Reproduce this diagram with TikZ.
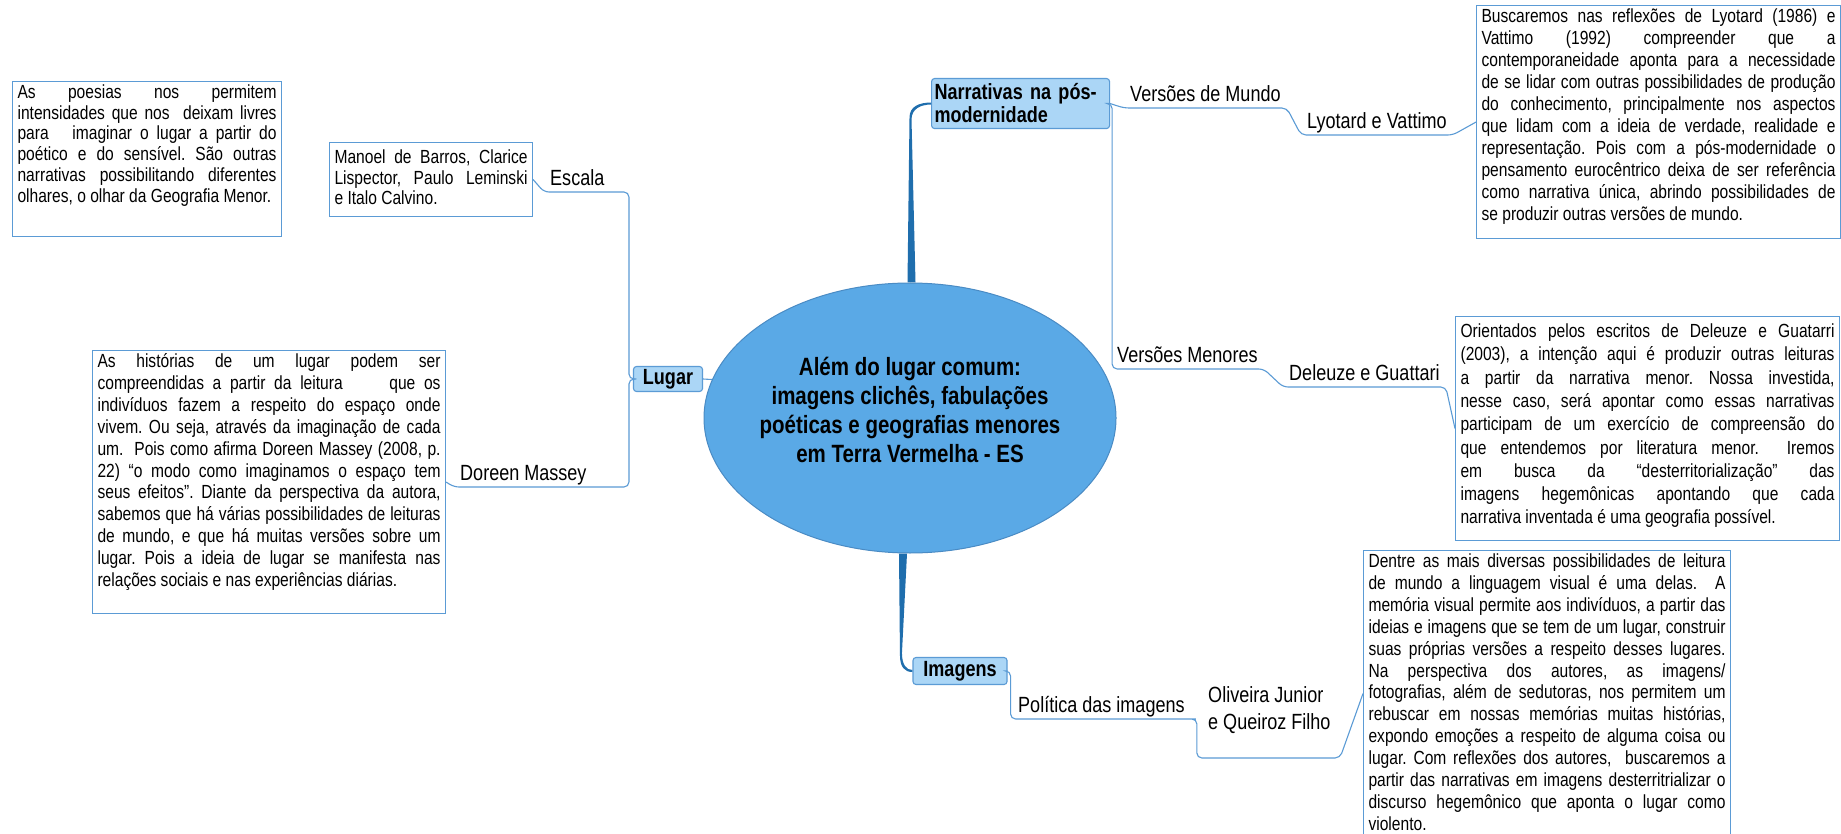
\documentclass[tikz,border=0pt]{standalone}
\usepackage{fontspec}
\setmainfont{Liberation Sans}[FakeStretch=0.82]
\usepackage{xcolor}
\usepackage{tikz}
\usetikzlibrary{shapes.geometric, calc}
\definecolor{topicfill}{HTML}{5AA9E6}
\definecolor{topicline}{HTML}{4A8BC4}
\definecolor{trunkblue}{HTML}{1F6EAD}
\definecolor{twigblue}{HTML}{5B9BD5}
\definecolor{boxline}{HTML}{5B9BD5}
\definecolor{branchfill}{HTML}{ABD6F6}
\hyphenpenalty=10000
\exhyphenpenalty=10000
\tolerance=10000
\frenchspacing
\newcommand{\boxfont}[1]{\fontsize{19}{#1}\selectfont}
\tikzstyle{centre} = [
    ellipse,
    draw=topicline,
    line width=1pt,
    fill=topicfill,
    minimum width=412pt,
    minimum height=270pt,
    inner sep=0pt
]
\tikzstyle{mainbranch} = [
    draw=boxline,
    line width=1.1pt,
    fill=branchfill,
    rounded corners=3pt,
    inner sep=0pt,
    font=\fontsize{22}{23}\selectfont\bfseries
]
\tikzstyle{notebox} = [
    draw=boxline,
    line width=1.1pt,
    fill=white,
    anchor=north west,
    align=justify,
    inner xsep=5pt,
    inner ysep=3pt,
    text height=14pt
]
\tikzstyle{leaf} = [
    anchor=south west,
    inner xsep=6pt,
    inner ysep=1pt,
    text height=16pt,
    text depth=5pt,
    font=\fontsize{22}{26}\selectfont
]
\tikzstyle{twig} = [
    draw=twigblue,
    line width=1.1pt,
    rounded corners=5pt
]
\tikzstyle{trunk} = [
    fill=trunkblue
]
\begin{document}
\frenchspacing
\begin{tikzpicture}[x=1pt,y=-1pt]

\useasboundingbox (0,0) rectangle (1841,834);

\clip (0,0) rectangle (1841,834);

\fill[white] (0,0) rectangle (1841,834);

\node[centre] (topic) at (910,418) {};

\node[align=center, font=\fontsize{25}{29}\selectfont\bfseries] (topictext) at (910,410)
{Além do lugar comum:\\imagens clichês, fabulações\\poéticas e geografias menores\\em Terra Vermelha - ES};

\node[mainbranch, minimum width=69pt, minimum height=25pt] (lugar) at (668,379) {Lugar};

\node[mainbranch, anchor=north west, align=left, text width=172pt, inner xsep=3pt, inner ysep=3pt,
text height=18pt, text depth=26pt] (narr) at (931,78) {Narrativas na pós-\\modernidade};

\node[mainbranch, minimum width=94pt, minimum height=27pt] (imag) at (960,671) {Imagens};

\node[notebox, text width=259pt, text depth=135pt, font=\boxfont{20.7}] (poem) at (12,81)
{As poesias nos permitem\linebreak
intensidades que nos\ \ deixam livres\linebreak
para\ \ \ imaginar o lugar a partir do\linebreak
poético e do sensível. São outras\linebreak
narrativas possibilitando diferentes\linebreak
olhares, o olhar da Geografia Menor.};

\node[notebox, text width=193pt, text height=18pt, text depth=50pt, font=\boxfont{20.5}] (manoel) at (329,142)
{Manoel de Barros, Clarice\linebreak
Lispector, Paulo Leminski\linebreak
e Italo Calvino.};

\node[notebox, text width=343pt, text depth=243pt, font=\boxfont{21.9}] (doreen) at (92,350)
{As histórias de um lugar podem ser\linebreak
compreendidas a partir da leitura\hspace{2em} que os\linebreak
indivíduos fazem a respeito do espaço onde\linebreak
vivem. Ou seja, através da imaginação de cada\linebreak
um.\ \ Pois como afirma Doreen Massey (2008, p.\linebreak
22) “o modo como imaginamos o espaço tem\linebreak
seus efeitos”. Diante da perspectiva da autora,\linebreak
sabemos que há várias possibilidades de leituras\linebreak
de mundo, e que há muitas versões sobre um\linebreak
lugar. Pois a ideia de lugar se manifesta nas\linebreak
relações sociais e nas experiências diárias.};

\node[notebox, text width=354pt, text depth=213pt, font=\boxfont{22}] (busc) at (1476,5)
{Buscaremos nas reflexões de Lyotard (1986) e\linebreak
Vattimo (1992) compreender que a\linebreak
contemporaneidade aponta para a necessidade\linebreak
de se lidar com outras possibilidades de produção\linebreak
do conhecimento, principalmente nos aspectos\linebreak
que lidam com a ideia de verdade, realidade e\linebreak
representação. Pois com a pós-modernidade o\linebreak
pensamento eurocêntrico deixa de ser referência\linebreak
como narrativa única, abrindo possibilidades de\linebreak
se produzir outras versões de mundo.};

\node[notebox, text width=374pt, text height=18pt, text depth=200pt, font=\boxfont{23.3}] (orient) at (1455,316)
{Orientados pelos escritos de Deleuze e Guatarri\linebreak
(2003), a intenção aqui é produzir outras leituras\linebreak
a partir da narrativa menor. Nossa investida,\linebreak
nesse caso, será apontar como essas narrativas\linebreak
participam de um exercício de compreensão do\linebreak
que entendemos por literatura menor.\ \ Iremos\linebreak
em busca da “desterritorialização” das\linebreak
imagens hegemônicas apontando que cada\linebreak
narrativa inventada é uma geografia possível.};

\node[notebox, text width=357pt, text depth=266pt, font=\boxfont{21.9}] (dentre) at (1363,550)
{Dentre as mais diversas possibilidades de leitura\linebreak
de mundo a linguagem visual é uma delas.\ \ A\linebreak
memória visual permite aos indivíduos, a partir das\linebreak
ideias e imagens que se tem de um lugar, construir\linebreak
suas próprias versões a respeito desses lugares.\linebreak
Na perspectiva dos autores, as imagens/\linebreak
fotografias, além de sedutoras, nos permitem um\linebreak
rebuscar em nossas memórias muitas histórias,\linebreak
expondo emoções a respeito de alguma coisa ou\linebreak
lugar. Com reflexões dos autores,\ \ buscaremos a\linebreak
partir das narrativas em imagens desterritrializar o\linebreak
discurso hegemônico que aponta o lugar como\linebreak
violento.};

\node[leaf] (escala) at (544,192) {Escala};

\node[leaf] (dmlbl) at (454,487) {Doreen Massey};

\node[leaf] (vdm) at (1124,108) {Versões de Mundo};

\node[leaf] (lyo) at (1301,135) {Lyotard e Vattimo};

\node[leaf] (vmen) at (1111,369) {Versões Menores};

\node[leaf] (del) at (1283,387) {Deleuze e Guattari};

\node[leaf] (pol) at (1012,719) {Política das imagens};

\node[leaf, text depth=54pt, font=\fontsize{22}{27}\selectfont] (oliv) at (1202,758)
{\begin{tabular}[t]{@{}l@{}}Oliveira Junior\\e Queiroz Filho\end{tabular}};

\fill[trunk] ($(topic.north)+(-2.5,0)$) -- ($(topic.north |- narr.west)+(-0.5,14)$)
.. controls ($(topic.north |- narr.west)+(-0.5,3)$) and ($(narr.west)+(-12,-1)$) .. ($(narr.west)+(0,-1)$)
-- ($(narr.west)+(0,1)$)
.. controls ($(narr.west)+(-10,1)$) and ($(topic.north |- narr.west)+(1.5,5)$) .. ($(topic.north |- narr.west)+(1.5,16)$)
-- ($(topic.north)+(5.5,0)$) -- cycle;

\fill[trunk] ($(topic.south)+(-11,0)$) -- ($(imag.west)+(-12.5,-16)$)
.. controls ($(imag.west)+(-12.5,-4)$) and ($(imag.west)+(-8,1)$) .. ($(imag.west)+(0,1)$)
-- ($(imag.west)+(0,-1)$)
.. controls ($(imag.west)+(-6,-1)$) and ($(imag.west)+(-10.5,-6)$) .. ($(imag.west)+(-10.5,-18)$)
-- ($(topic.south)+(-3,0)$) -- cycle;

\draw[twig] (lugar.east) -- (topic.169);

\draw[twig] (lugar.west) -- ++(-4,0) |- (escala.south east) -- (escala.south west) -- (manoel.east);

\draw[twig] (lugar.west) -- ++(-4,0) |- (dmlbl.south east) -- (dmlbl.south west) -- (doreen.east);

\draw[twig] (narr.east) -- (vdm.south west) -- (vdm.south east) -- (lyo.south west) -- (lyo.south east) -- (busc.west);

\draw[twig] (narr.east) -- ++(2,0) |- (vmen.south east) -- (del.south west) -- (del.south east) -- (orient.west);

\draw[twig] (imag.east) -- ++(3,0) |- (pol.south east) -- ++(6,0) |- ($(oliv.south west)+(138,0)$) -- (dentre.west);

\end{tikzpicture}
\end{document}
